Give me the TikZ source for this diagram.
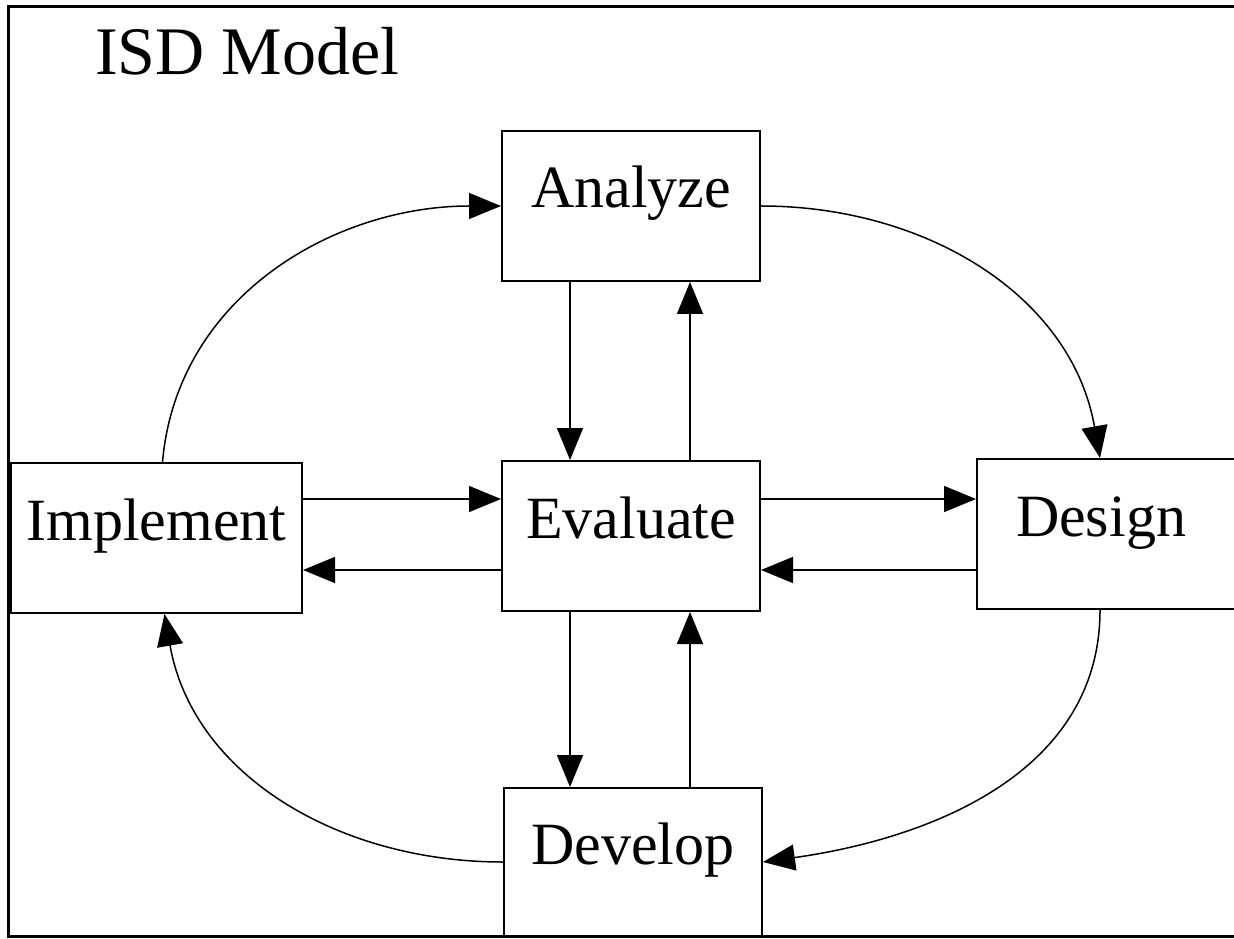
\documentclass[tikz,border=0pt]{standalone}
\usepackage{fontspec}
\setmainfont{Liberation Serif}
\usepackage{xcolor}
\usepackage{tikz}
\usetikzlibrary{arrows.meta}

\begin{document}
\begin{tikzpicture}[x=0.5pt,y=0.5pt,
  box/.style={draw, line width=1pt, inner sep=0pt, minimum width=129pt, minimum height=75pt,
    text height=12pt, text depth=10pt, font=\fontsize{30}{36}\selectfont},
  arr/.style={line width=0.75pt, -{Triangle[length=16pt,width=13pt]}}]
\useasboundingbox (0,0) rectangle (1234,938);
\clip (0,0) rectangle (1234,938);
\draw[line width=1.5pt] (1234,931) -- (8.5,931) -- (8.5,2) -- (1234,2);
\node[anchor=base west, font=\fontsize{34}{40}\selectfont] (title) at (88,863) {ISD Model};
\node[box] (ana) at (631,732) {Analyze};
\node[box] (eva) at (631,402) {Evaluate};
\node[box, minimum width=145.5pt] (impl) at (156.5,400) {Implement};
\node[box, anchor=west, minimum width=142pt, inner xsep=19.5pt, text width=103pt, align=left] (des) at (976,404) {Design};
\node[box, minimum height=74pt] (dev) at (633,76) {Develop};
\draw[arr] ([xshift=-30.5pt]ana.south) -- ([xshift=-30.5pt]eva.north);
\draw[arr] ([xshift=29.5pt]eva.north) -- ([xshift=29.5pt]ana.south);
\draw[arr] ([xshift=-30.5pt]eva.south) -- ([xshift=-30.5pt]eva.south |- dev.north);
\draw[arr] ([xshift=29.5pt]eva.south |- dev.north) -- ([xshift=29.5pt]eva.south);
\draw[arr] ([yshift=18.5pt]eva.west -| impl.east) -- ([yshift=18.5pt]eva.west);
\draw[arr] ([yshift=-17pt]eva.west) -- ([yshift=-17pt]eva.west -| impl.east);
\draw[arr] ([yshift=18.5pt]eva.east) -- ([yshift=18.5pt]eva.east -| des.west);
\draw[arr] ([yshift=-17pt]eva.east -| des.west) -- ([yshift=-17pt]eva.east);
\draw[arr] ([xshift=3pt]impl.north) to[out=85,in=180] (ana.west);
\draw[arr] (ana.east) to[out=0,in=100] ([xshift=62pt]des.north west);
\draw[arr] ([xshift=62pt]des.south west) to[out=-90,in=8] (dev.east);
\draw[arr] (dev.west) to[out=180,in=-80] ([xshift=4pt]impl.south);
\end{tikzpicture}
\end{document}
